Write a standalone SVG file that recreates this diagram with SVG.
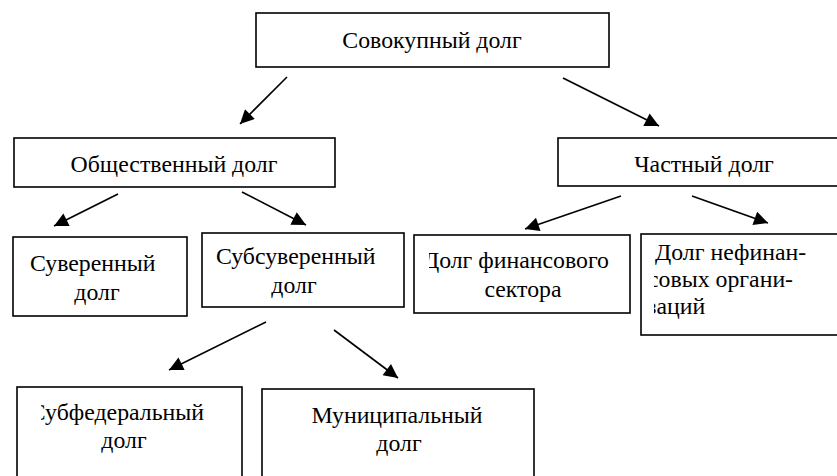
<svg xmlns="http://www.w3.org/2000/svg" width="837" height="476" viewBox="0 0 837 476">
<style>
.box{fill:#fff;stroke:#000;stroke-width:1.6}
.t{font-family:'Liberation Serif','Times New Roman',serif;font-size:23.8px;fill:#000}
.m{text-anchor:middle}
.e{text-anchor:end}
.c line{stroke:#000;stroke-width:1.6;marker-end:url(#ah)}
</style>
<defs>
<marker id="ah" viewBox="0 0 10 10" refX="10" refY="5" markerUnits="userSpaceOnUse" markerWidth="18" markerHeight="14" orient="auto">
<path d="M0,0 L10,5 L0,10 z" fill="#000"/>
</marker>
<clipPath id="clipFin"><rect x="429" y="236" width="200" height="76"/></clipPath>
<clipPath id="clipNef"><rect x="654" y="235" width="190" height="100"/></clipPath>
<clipPath id="clipSubf"><rect x="41" y="388" width="200" height="90"/></clipPath>
</defs>
<g class="c" id="connectors">
<line x1="287" y1="77" x2="240" y2="124"/>
<line x1="563" y1="78" x2="659" y2="126"/>
<line x1="118" y1="194" x2="54" y2="226"/>
<line x1="242" y1="192" x2="306" y2="225"/>
<line x1="621" y1="196" x2="525" y2="229"/>
<line x1="692" y1="196" x2="768" y2="223"/>
<line x1="266" y1="322" x2="169" y2="370"/>
<line x1="334" y1="330" x2="398" y2="378"/>
</g>
<g id="total">
<rect class="box" x="256" y="13" width="353" height="54"/>
<text class="t m" x="432" y="48">Совокупный долг</text>
</g>
<g id="public">
<rect class="box" x="14" y="138" width="321" height="49"/>
<text class="t m" x="174" y="172">Общественный долг</text>
</g>
<g id="private">
<rect class="box" x="558" y="138" width="300" height="48"/>
<text class="t m" x="704" y="172">Частный долг</text>
</g>
<g id="sovereign">
<rect class="box" x="13" y="237" width="174" height="79"/>
<text class="t" x="30" y="271">Суверенный</text>
<text class="t m" x="97" y="300">долг</text>
</g>
<g id="subsovereign">
<rect class="box" x="202" y="233" width="202" height="74"/>
<text class="t" x="216" y="264">Субсуверенный</text>
<text class="t m" x="294" y="293">долг</text>
</g>
<g id="financial">
<rect class="box" x="414" y="235" width="216" height="78"/>
<g clip-path="url(#clipFin)">
<text class="t e" x="609" y="268">Долг финансового</text>
</g>
<text class="t m" x="523" y="297">сектора</text>
</g>
<g id="nonfinancial">
<rect class="box" x="641" y="234" width="210" height="101"/>
<g clip-path="url(#clipNef)">
<text class="t" x="655" y="260">Долг нефинан-</text>
<text class="t" x="648" y="287">совых органи-</text>
<text class="t" x="647" y="314">заций</text>
</g>
</g>
<g id="subfederal">
<rect class="box" x="17" y="387" width="225" height="100"/>
<g clip-path="url(#clipSubf)">
<text class="t e" x="204" y="420">Субфедеральный</text>
</g>
<text class="t m" x="124" y="448">долг</text>
</g>
<g id="municipal">
<rect class="box" x="262" y="389" width="272" height="100"/>
<text class="t m" x="397" y="423">Муниципальный</text>
<text class="t m" x="399" y="451">долг</text>
</g>
</svg>
